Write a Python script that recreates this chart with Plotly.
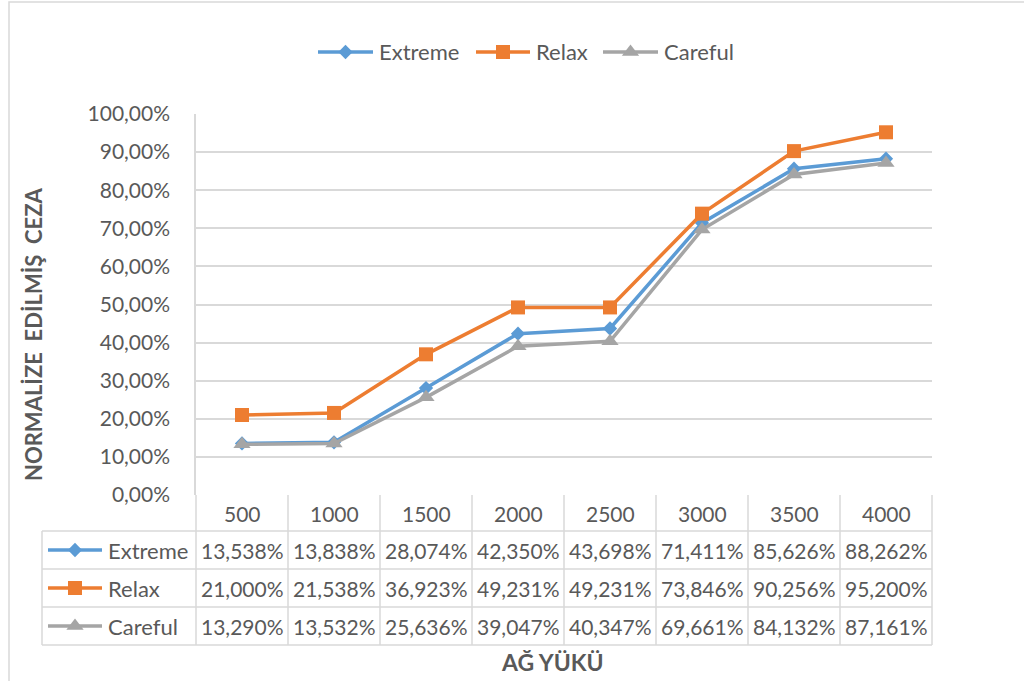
import math
import plotly.graph_objects as go

# ---------------- data ----------------
loads = ["500", "1000", "1500", "2000", "2500", "3000", "3500", "4000"]
series_names = ["Extreme", "Relax", "Careful"]
extreme = [13.538, 13.838, 28.074, 42.350, 43.698, 71.411, 85.626, 88.262]
relax = [21.000, 21.538, 36.923, 49.231, 49.231, 73.846, 90.256, 95.200]
careful = [13.290, 13.532, 25.636, 39.047, 40.347, 69.661, 84.132, 87.161]
y_ticks = [0, 10, 20, 30, 40, 50, 60, 70, 80, 90, 100]
y_title = "NORMALİZE  EDİLMİŞ  CEZA"
x_title = "AĞ YÜKÜ"

series_values = [extreme, relax, careful]

# ---------------- layout constants ----------------
W, H = 1024, 681
L, R, T, B = 196, 92, 114, 186
PW, PH = W - L - R, H - T - B

def px(x):
    return (x - L) / PW

def py(y):
    return (H - B - y) / PH

def col_center(i):
    # centre of category i on the main x axis (range -0.5 .. n-0.5), in paper units
    return (i + 0.5) / len(loads)

FONT = "Lato"
TXT = "#595959"
GRID = "#D9D9D9"
LW = 3.5
NUM_FS = 21
LEG_FS = 22
TITLE_FS = 22
styles = [
    dict(color="#5B9BD5", symbol="diamond", size=11),
    dict(color="#ED7D31", symbol="square", size=14),
    dict(color="#A5A5A5", symbol="triangle-up", size=15),
]

def marker_path(symbol, s):
    r = s / 2
    if symbol == "diamond":
        d = 0.65 * s
        return f"M {-d},0 L 0,{d} L {d},0 L 0,{-d} Z"
    if symbol == "square":
        return f"M {-r},{-r} L {r},{-r} L {r},{r} L {-r},{r} Z"
    rt = r * 2 / math.sqrt(3)
    return f"M {-rt},{-r/2} L {rt},{-r/2} L 0,{r} Z"

fig = go.Figure()

for name, vals, st in zip(series_names, series_values, styles):
    fig.add_trace(go.Scatter(
        x=loads, y=vals, name=name, mode="lines+markers",
        line=dict(color=st["color"], width=LW),
        marker=dict(symbol=st["symbol"], size=st["size"], color=st["color"]),
        showlegend=False, hoverinfo="x+y+name",
    ))

shapes = []
annotations = []

def legend_key(x0, x1, y, st):
    shapes.append(dict(type="line", xref="paper", yref="paper",
                       x0=px(x0), x1=px(x1), y0=py(y), y1=py(y),
                       line=dict(color=st["color"], width=LW), layer="below"))
    shapes.append(dict(type="path", xref="paper", yref="paper",
                       xsizemode="pixel", ysizemode="pixel",
                       xanchor=px((x0 + x1) / 2), yanchor=py(y),
                       path=marker_path(st["symbol"], st["size"]),
                       fillcolor=st["color"], line=dict(width=0)))

# ---- top legend (custom) ----
top_leg = [(318, 373, 377), (476, 530, 534), (603, 658, 662)]
leg_y = 52
for (x0, x1, xt), name, st in zip(top_leg, series_names, styles):
    legend_key(x0, x1, leg_y, st)
    annotations.append(dict(xref="paper", yref="paper", x=px(xt), y=py(leg_y),
                            text=name, showarrow=False, xanchor="left", yanchor="middle",
                            font=dict(size=LEG_FS, color=TXT, family=FONT)))

# ---- data table ----
col_edges = [196, 288, 380, 472, 564, 656, 748, 840, 932]
row_edges = [495, 531, 569, 607, 645]
leg_left = 42
line_style = dict(color=GRID, width=1.5)
for xe in col_edges:
    shapes.append(dict(type="line", xref="paper", yref="paper",
                       x0=px(xe), x1=px(xe), y0=py(row_edges[0]), y1=py(row_edges[-1]),
                       line=line_style))
shapes.append(dict(type="line", xref="paper", yref="paper",
                   x0=px(leg_left), x1=px(leg_left), y0=py(row_edges[1]), y1=py(row_edges[-1]),
                   line=line_style))
for ye in row_edges[1:]:
    shapes.append(dict(type="line", xref="paper", yref="paper",
                       x0=px(leg_left), x1=px(col_edges[-1]), y0=py(ye), y1=py(ye),
                       line=line_style))

header_y = (row_edges[0] + row_edges[1]) / 2
for i, c in enumerate(loads):
    annotations.append(dict(xref="paper", yref="paper", x=col_center(i), y=py(header_y), text=c,
                            showarrow=False, xanchor="center", yanchor="middle",
                            font=dict(size=NUM_FS, color=TXT, family=FONT)))

def fmt(v):
    return f"{v:.3f}".replace(".", ",") + "%"

for r_i, (name, vals, st) in enumerate(zip(series_names, series_values, styles)):
    yc = (row_edges[r_i + 1] + row_edges[r_i + 2]) / 2
    for i, v in enumerate(vals):
        annotations.append(dict(xref="paper", yref="paper", x=col_center(i), y=py(yc), text=fmt(v),
                                showarrow=False, xanchor="center", yanchor="middle",
                                font=dict(size=NUM_FS, color=TXT, family=FONT)))
    legend_key(48, 102, yc, st)
    annotations.append(dict(xref="paper", yref="paper", x=px(106), y=py(yc), text=name,
                            showarrow=False, xanchor="left", yanchor="middle",
                            font=dict(size=LEG_FS, color=TXT, family=FONT)))

# axis titles
annotations.append(dict(xref="paper", yref="paper", x=px(33), y=py(335), text=y_title,
                        textangle=-90, showarrow=False, xanchor="center", yanchor="middle",
                        font=dict(size=TITLE_FS, color=TXT, family=FONT, weight="bold")))
annotations.append(dict(xref="paper", yref="paper", x=px(552), y=py(662), text=x_title,
                        showarrow=False, xanchor="center", yanchor="middle",
                        font=dict(size=TITLE_FS + 1, color=TXT, family=FONT, weight="bold")))

# chart border
shapes.append(dict(type="rect", xref="paper", yref="paper",
                   x0=px(9), x1=px(W + 20), y0=py(2), y1=py(H + 20),
                   line=dict(color=GRID, width=1.5)))

tick_text = [f"{v:.2f}".replace(".", ",") + "%" for v in y_ticks]

fig.update_layout(
    width=W, height=H,
    margin=dict(l=L, r=R, t=T, b=B, pad=0),
    paper_bgcolor="white", plot_bgcolor="rgba(0,0,0,0)",
    font=dict(family=FONT, color=TXT, size=NUM_FS),
    xaxis=dict(type="category", range=[-0.5, len(loads) - 0.5], showticklabels=False,
               showgrid=False, zeroline=False, showline=False, fixedrange=True),
    yaxis=dict(range=[0, 100], tickvals=y_ticks, ticktext=tick_text,
               showgrid=True, gridcolor=GRID, gridwidth=1.5, zeroline=False,
               showline=True, linecolor=GRID, linewidth=1.5, ticks="",
               ticklabelstandoff=20, tickfont=dict(size=NUM_FS, color=TXT, family=FONT),
               fixedrange=True),
    shapes=shapes, annotations=annotations,
)

fig.write_html("out.html", config={"displayModeBar": False},
               post_script="document.body.style.margin='0';")
